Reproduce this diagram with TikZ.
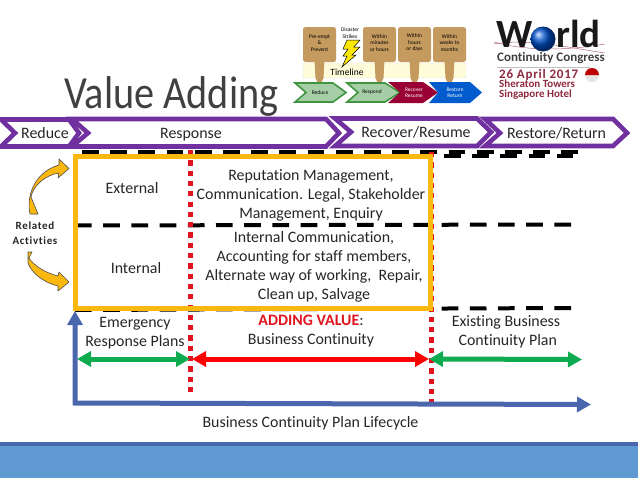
\documentclass[tikz,border=0pt]{standalone}
\usepackage{fontspec}
\setmainfont[Ligatures=NoCommon]{Carlito}
\newfontfamily\spaced[LetterSpace=6,Ligatures=NoCommon]{Carlito}
\newfontfamily\titlefont[FakeStretch=0.875,Ligatures=NoCommon]{Carlito}
\usetikzlibrary{arrows.meta}
\definecolor{bandpurple}{HTML}{7030A0}
\definecolor{boxyellow}{HTML}{FBB80F}
\definecolor{dotred}{HTML}{E0141E}
\definecolor{spangreen}{HTML}{0FAB50}
\definecolor{lifeblue}{HTML}{4A66AC}
\definecolor{footblue}{HTML}{5F9BD2}
\definecolor{calltan}{HTML}{C49A5E}
\definecolor{logored}{HTML}{8E2A3E}
\tikzset{
	phase/.style={draw=bandpurple,line width=4.6pt,miter limit=10},
	phasetext/.style={font=\fontsize{15.9}{18}\selectfont,text=black!85},
	celltext/.style={font=\fontsize{15.9}{19}\selectfont,align=center,text=black!85,inner sep=0pt},
	blackdash/.style={black,line width=4pt,dash pattern=on 16.7pt off 11.5pt},
	reddots/.style={dotred,line width=5pt,dash pattern=on 5.2pt off 5.1pt},
	span/.style={line width=5pt,{Triangle[width=15pt,length=14pt]}-{Triangle[width=15pt,length=14pt]}},
	lifeline/.style={lifeblue,line width=5pt,{Triangle[width=15pt,length=14pt]}-{Triangle[width=15pt,length=14pt]}},
	bentarrow/.style={fill=boxyellow,draw=black!70,line width=0.6pt,line join=round},
	callout/.style={fill=calltan,rounded corners=2.5pt},
	tiny/.style={font=\fontsize{5.5}{6.5}\selectfont,align=center,inner sep=0pt},
	logotext/.style={anchor=base west,inner sep=0pt,text height=0.7em,text depth=0pt},
}
\begin{document}
\begin{tikzpicture}[x=1pt,y=-1pt]
	\useasboundingbox (0,0) rectangle (638,479);
	
	%title
	\node[anchor=base west,inner sep=0pt,text=black!75,font=\titlefont\fontsize{46}{50}\selectfont] (title) at (64,108) {Value Adding};
	
	%small timeline picture
	\fill[fill=yellow!15,draw=black!12,rounded corners=2pt] (303,63) rectangle (466,78);
	\node[font=\fontsize{9.5}{10}\selectfont] (timeline) at (347,72) {Timeline};
	\foreach \cx/\ctext in {319.5/{Pre-empt\\\&\\Prevent},379.5/{Within\\minutes\\or hours},414.5/{Within\\hours\\or days},449.5/{Within\\weeks to\\months}}{
		\fill[calltan] (\cx-5,60) -- (\cx-4,78) -- (\cx,87) -- (\cx+4,78) -- (\cx+5,60) -- cycle;
		\fill[callout] (\cx-16.5,27) rectangle (\cx+16.5,62);
		\node[tiny] at (\cx,43) {\ctext};
	}
	%small chevrons
	\fill[fill=green!45!black!35,draw=green!45!black!75,line width=1.6pt] (295,83) -- (333,83) -- (346,92.5) -- (333,102) -- (295,102) -- (306,92.5) -- cycle;
	\fill[fill=green!45!black!35,draw=green!45!black!75,line width=1.6pt] (347,83) -- (385,83) -- (400,92.5) -- (385,102) -- (347,102) -- (358,92.5) -- cycle;
	\fill[fill=purple!80!black] (388,82) -- (423,82) -- (438,92.5) -- (423,103) -- (388,103) -- (400,92.5) -- cycle;
	\fill[fill=blue!55!cyan!80!black] (429,82) -- (470,82) -- (482,92.5) -- (470,103) -- (429,103) -- (438,92.5) -- cycle;
	\node[tiny] (sreduce) at (320,92.5) {Reduce};
	\node[tiny] (srespond) at (372,92.5) {Respond};
	\node[tiny,text=white] (srecover) at (414,93) {Recover\\Resume};
	\node[tiny,text=white] (srestore) at (455,93) {Restore\\Return};
	\node[tiny] (strikes) at (350,33) {Disaster\\Strikes};
	\fill[fill=yellow!90!orange,draw=black,line width=0.5pt] (347,40) -- (360,40) -- (354,47) -- (360,47) -- (352,55) -- (356,55) -- (342,67) -- (347,56) -- (343,56) -- (348,49) -- (343,49) -- cycle;
	
	%logo
	\draw[logored!70,line width=0.5pt] (494,42) .. controls (530,52) and (570,50) .. (605,44);
	\draw[logored!70,line width=0.5pt] (494,44) .. controls (530,38) and (570,48) .. (605,53);
	\node[logotext,font=\bfseries\fontsize{40}{40}\selectfont,text=black!90] (logow) at (496,47) {W};
	\node[logotext,font=\bfseries\fontsize{39}{39}\selectfont,text=black!90] (logorld) at (556,47) {rld};
	\shade[ball color=blue!60!cyan!80!black] (543,39) circle (12.5);
	\node[logotext,font=\bfseries\fontsize{13}{13}\selectfont,text=black!75] (congress) at (497,61.5) {Continuity Congress};
	\draw[black!25,line width=0.6pt] (497,67) -- (590,67);
	\node[logotext,font=\spaced\bfseries\fontsize{13}{13}\selectfont,text=logored] (date) at (499,78) {26 April 2017};
	\node[logotext,font=\bfseries\fontsize{11}{11}\selectfont,text=logored] (hotela) at (499,87.5) {Sheraton Towers};
	\node[logotext,font=\bfseries\fontsize{11}{11}\selectfont,text=logored] (hotelb) at (499,97) {Singapore Hotel};
	\fill[black!10] (592,75) circle (7);
	\fill[red!75!black] (585,75) arc (180:360:7) -- cycle;
	
	%phases
	\draw[phase] (1,119.5) -- (69,119.5) -- (79,133) -- (69,146.5) -- (1,146.5) -- (15,133) -- cycle;
	\draw[phase] (72,119) -- (326,119) -- (339,133) -- (326,146.5) -- (72,146.5) -- (88,133) -- cycle;
	\draw[phase] (335,118.5) -- (477,118.5) -- (491,132) -- (477,146) -- (335,146) -- (351,132) -- cycle;
	\draw[phase] (485,119) -- (613,119) -- (627,133) -- (613,146) -- (485,146) -- (500,133) -- cycle;
	\node[phasetext] (reduce) at (45,133) {Reduce};
	\node[phasetext] (response) at (191,135) {Response};
	\node[phasetext] (recover) at (416,132) {Recover/Resume};
	\node[phasetext] (restore) at (556.5,133) {Restore/Return};
	
	%dashes
	\draw[blackdash] (82,152) -- (578,152);
	\draw[blackdash] (444,156) -- (573,156);
	\draw[blackdash] (75,225.5) -- (572,224.5);
	\draw[blackdash] (75,310) -- (571,308);
	
	%red dots
	\draw[reddots] (190,150) -- (190,397);
	\draw[reddots] (431,152) -- (431,402);
	
	%box
	\draw[boxyellow,line width=5pt] (75.5,156.5) rectangle (430.5,308.5);
	
	%bent arrows
	\draw[bentarrow] (30,214) .. controls (26,195) and (35,172) .. (59,165) -- (59,159) -- (69,168.5) -- (58,178) -- (59,173) .. controls (45,175) and (33,186) .. (31,197) -- (38,214) -- cycle;
	\draw[bentarrow] (28,252) -- (28,263) .. controls (32,274) and (45,283) .. (58,286) -- (58,291) -- (69,282) -- (59,272) -- (58,276) .. controls (46,273) and (34,266) .. (29,258) -- (32,252) -- cycle;
	\node[font=\spaced\bfseries\fontsize{11}{15}\selectfont,align=center,text=black!85,inner sep=0pt] (related) at (35,233.5) {Related\\Activties};
	
	%table text
	\node[celltext] (external) at (132,188) {External};
	\node[celltext] (internal) at (136,268) {Internal};
	\node[celltext] (outside) at (311,195) {Reputation Management,\\Communication. Legal, Stakeholder\\Management, Enquiry};
	\node[celltext] (inside) at (314,267) {Internal Communication,\\Accounting for staff members,\\Alternate way of working,\ \ Repair,\\Clean up, Salvage};
	
	%labels under the box
	\node[celltext] (plans) at (135,333.5) {Emergency\\Response Plans};
	\node[celltext] (adding) at (311,331.5) {\textcolor{dotred}{\textbf{ADDING VALUE}}:\\Business Continuity};
	\node[celltext] (existing) at (506,331.5) {Existing Business\\\ Continuity Plan};
	\node[celltext] (lifecycle) at (310.5,423) {Business Continuity Plan Lifecycle};
	
	%span arrows
	\coordinate (startspan) at (77,359);
	\coordinate (firstcut) at (190,359);
	\coordinate (redstart) at (192,359);
	\coordinate (secondcut) at (429,359);
	\coordinate (endspan) at (582,359.5);
	\draw[span,red] (redstart) -- (secondcut);
	\draw[span,spangreen] (startspan) -- (firstcut);
	\draw[span,spangreen] (secondcut) -- (endspan);
	
	%lifecycle arrow
	\coordinate (lifetop) at (75,311);
	\coordinate (lifecorner) at (75,403);
	\coordinate (lifeend) at (591,404.5);
	\draw[lifeline,line join=miter] (lifetop) -- (lifecorner) -- (lifeend);
	
	%footer
	\fill[footblue] (0,446) rectangle (638,478);
	\fill[lifeblue] (0,442) rectangle (638,446);
\end{tikzpicture}
\end{document}
